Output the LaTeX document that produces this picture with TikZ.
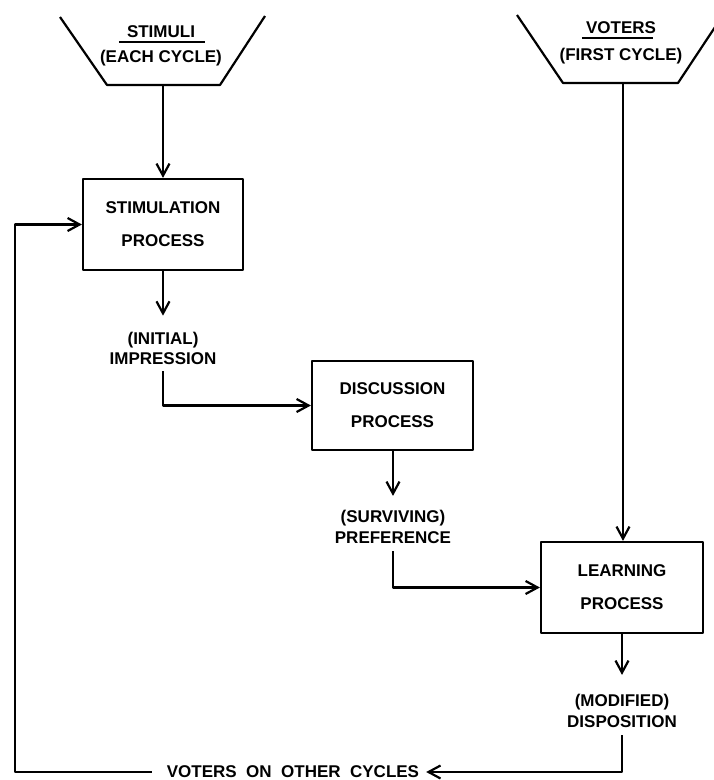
\documentclass[tikz,border=0pt]{standalone}
\usepackage{fontspec}
\setmainfont{Liberation Sans}
\usetikzlibrary{arrows.meta}
\begin{document}
\begin{tikzpicture}[x=1pt,y=-1pt,
  line width=2.2pt, line join=round,
  arr/.style={-{Straight Barb[length=12pt,width=13pt,line width=2.2pt]}},
  proc/.style={draw, minimum height=91pt, align=center, inner sep=0pt,
    font=\bfseries\fontsize{17}{33}\selectfont},
  lbl/.style={align=center, inner sep=6pt, font=\bfseries\fontsize{17}{21.5}\selectfont},
  ttl/.style={inner sep=0pt, font=\bfseries\fontsize{17}{20}\selectfont},
  uline/.style={line width=1.8pt}]
\useasboundingbox (0,0) rectangle (714,780);
\clip (0,0) rectangle (714,780);
% hoppers
\draw (60,17) -- (107,85) -- (220,85) -- (265,16);
\draw (517,15) -- (563,83) -- (678,83) -- (725,12);
\coordinate (hs) at (163,85);
\coordinate (hv) at (623,83);
\node[ttl] (stimA) at (161,32) {STIMULI};
\node[ttl] (stimB) at (161,58) {(EACH CYCLE)};
\draw[uline] ([xshift=-7pt,yshift=-3pt]stimA.south west) -- ([xshift=9pt,yshift=-3pt]stimA.south east);
\node[ttl] (votA) at (621,28) {VOTERS};
\node[ttl] (votB) at (621,56) {(FIRST CYCLE)};
\draw[uline] ([xshift=-3pt,yshift=-3pt]votA.south west) -- ([xshift=-4pt,yshift=-3pt]votA.south east);
% process boxes
\node[proc, minimum width=160pt] (stim) at (163,224.5) {STIMULATION\\PROCESS};
\node[proc, minimum width=161pt, minimum height=89pt] (disc) at (392.5,405.5) {DISCUSSION\\PROCESS};
\node[proc, minimum width=162pt] (learn) at (622,587.5) {LEARNING\\PROCESS};
% labels
\node[lbl] (init) at (163,348) {(INITIAL)\\[-1.5pt]IMPRESSION};
\node[lbl] (surv) at (393,527) {(SURVIVING)\\PREFERENCE};
\node[lbl] (mod) at (622,711) {(MODIFIED)\\DISPOSITION};
\node[lbl] (others) at (293,772) {VOTERS\ \ ON\ \ OTHER\ \ CYCLES};
\coordinate (loopc) at (15,500);
% connectors
\draw[arr] (hs) -- (stim.north);
\draw[arr] (hv) -- (hv |- learn.north);
\draw[arr, shorten >=9pt] (stim.south) -- (init.north);
\draw[arr] (init.south) |- (disc.west);
\draw[arr, shorten >=7pt] (disc.south -| surv.north) -- (surv.north);
\draw[arr] (surv.south) |- (learn.west);
\draw[arr, shorten >=12pt] (learn.south) -- (mod.north);
\draw[arr] (mod.south) |- (others.east);
\draw[arr, shorten <=8pt] (others.west) -| (loopc) |- (stim.west);
\end{tikzpicture}
\end{document}
